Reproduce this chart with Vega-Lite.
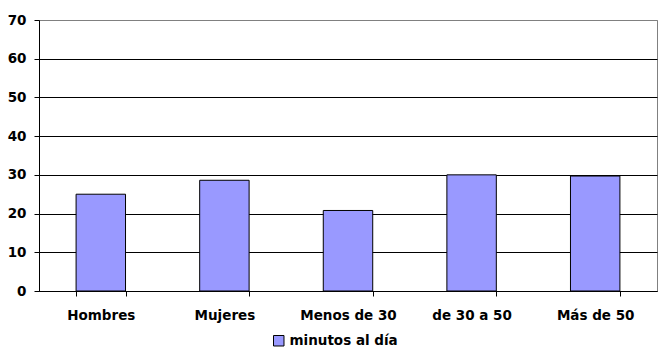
{
  "$schema": "https://vega.github.io/schema/vega-lite/v6.json",
  "width": 618,
  "height": 271,
  "autosize": {"type": "none"},
  "padding": {"left": 39, "top": 20, "right": 6, "bottom": 69},
  "background": "white",
  "config": {
    "view": {"stroke": "#808080", "strokeWidth": 1},
    "font": "DejaVu Sans"
  },
  "data": {
    "values": [
      {"grupo": "Hombres", "minutos": 25, "serie": "minutos al día"},
      {"grupo": "Mujeres", "minutos": 28.6, "serie": "minutos al día"},
      {"grupo": "Menos de 30", "minutos": 20.8, "serie": "minutos al día"},
      {"grupo": "de 30 a 50", "minutos": 30, "serie": "minutos al día"},
      {"grupo": "Más de 50", "minutos": 29.7, "serie": "minutos al día"}
    ]
  },
  "mark": {"type": "bar", "stroke": "black", "strokeWidth": 1},
  "encoding": {
    "x": {
      "field": "grupo",
      "type": "nominal",
      "sort": null,
      "scale": {"paddingInner": 0.6, "paddingOuter": 0.3},
      "axis": {
        "title": null,
        "labelAngle": 0,
        "labelFont": "DejaVu Sans",
        "labelFontSize": 13.5,
        "labelFontWeight": "bold",
        "labelColor": "black",
        "labelPadding": 12,
        "tickBand": "extent",
        "tickColor": "black",
        "tickSize": 5,
        "domainColor": "black",
        "grid": false
      }
    },
    "y": {
      "field": "minutos",
      "type": "quantitative",
      "scale": {"domain": [0, 70], "nice": false},
      "axis": {
        "title": null,
        "values": [0, 10, 20, 30, 40, 50, 60, 70],
        "labelFont": "DejaVu Sans",
        "labelFontSize": 13.5,
        "labelFontWeight": "bold",
        "labelColor": "black",
        "labelPadding": 8,
        "tickColor": "black",
        "tickSize": 5,
        "domainColor": "black",
        "gridColor": {"condition": {"test": "datum.value == 70", "value": "#808080"}, "value": "black"},
        "gridOpacity": 1,
        "gridWidth": 1
      }
    },
    "color": {
      "field": "serie",
      "type": "nominal",
      "scale": {"range": ["#9999FF"]},
      "legend": {
        "title": null,
        "orient": "none",
        "legendX": 233,
        "legendY": 314,
        "symbolType": "square",
        "symbolSize": 110,
        "symbolStrokeColor": "black",
        "symbolStrokeWidth": 1,
        "symbolOpacity": 1,
        "labelFont": "DejaVu Sans",
        "labelFontSize": 13.5,
        "labelFontWeight": "bold",
        "labelColor": "black",
        "labelOffset": 4
      }
    }
  }
}
